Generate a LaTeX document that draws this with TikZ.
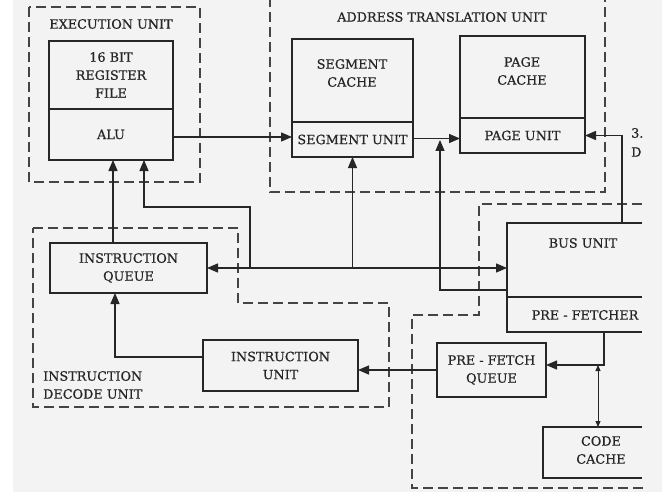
\documentclass[tikz,border=0pt]{standalone}
\usepackage{fontspec}
\setmainfont[FakeBold=0.6]{DejaVu Serif}
\usetikzlibrary{arrows.meta}
\definecolor{ink}{HTML}{262626}
\definecolor{dashink}{HTML}{444444}
\definecolor{paper}{HTML}{F3F3F3}
\tikzset{
  box/.style={draw=ink, line width=1.5pt, inner sep=0pt, outer sep=0pt, anchor=north west, align=center, text=ink},
  openbox/.style={inner sep=0pt, outer sep=0pt, anchor=north west},
  txt/.style={inner sep=0pt, align=center, text=ink},
  grp/.style={draw=dashink, line width=1.7pt, dash pattern=on 10pt off 5pt},
  conn/.style={draw=ink, line width=1.3pt},
  arr/.style={conn, -{Triangle[length=11pt,width=9pt]}},
  biarr/.style={conn, {Triangle[length=11pt,width=9pt]}-{Triangle[length=11pt,width=9pt]}},
  smallbi/.style={conn, line width=0.9pt, {Triangle[length=6pt,width=5pt]}-{Triangle[length=6pt,width=5pt]}},
}
\begin{document}
\begin{tikzpicture}[x=1pt,y=-1pt,font=\fontsize{12.8}{18}\selectfont]
\useasboundingbox (0,0) rectangle (672,492);
\fill[white] (0,0) rectangle (672,492);
\fill[paper] (13,0) rectangle (662,492);

% group frames
\draw[grp] (29,7) rectangle (200,182);
\node[txt] (eulbl) at (111,24) {EXECUTION UNIT};
\draw[grp] (270,-3) -- (270,192) -- (605,192) -- (605,-3);
\node[txt] (atulbl) at (442,17) {ADDRESS TRANSLATION UNIT};
\draw[grp] (33,228) -- (238,228) -- (238,303) -- (389,303) -- (389,407) -- (33,407) -- cycle;
\node[txt, anchor=west, align=left] (idulbl) at (43,385) {INSTRUCTION\\DECODE UNIT};
\draw[grp] (642,204) -- (479,204) -- (479,315) -- (412,315) -- (412,488) -- (645,488);

% execution unit
\node[box, minimum width=124pt, minimum height=68pt] (regfile) at (49,41) {16 BIT\\REGISTER\\FILE};
\node[box, minimum width=124pt, minimum height=51pt] (alu) at (49,109) {ALU};

% address translation unit
\node[box, minimum width=121pt, minimum height=83pt] (segcache) at (292,39) {};
\node[txt] (segcachet) at (352,73) {SEGMENT\\CACHE};
\node[box, minimum width=121pt, minimum height=35pt] (segunit) at (292,122) {SEGMENT UNIT};
\node[box, minimum width=125pt, minimum height=82pt] (pagecache) at (460,36) {};
\node[txt] (pagecachet) at (522,71) {PAGE\\CACHE};
\node[box, minimum width=125pt, minimum height=35pt] (pageunit) at (460,118) {PAGE UNIT};

% instruction decode unit
\node[box, minimum width=157pt, minimum height=50pt] (iq) at (50,243) {INSTRUCTION\\QUEUE};
\node[box, minimum width=155pt, minimum height=51pt] (iu) at (203,340) {INSTRUCTION\\UNIT};

% bus unit side
\node[openbox, minimum width=135pt, minimum height=74pt] (bus) at (507,223) {};
\draw[ink, line width=1.5pt] (bus.north east) -- (bus.north west) -- (bus.south west) -- (bus.south east);
\node[txt] (bust) at (583,243) {BUS UNIT};
\node[openbox, minimum width=135pt, minimum height=35pt] (pf) at (507,297) {};
\draw[ink, line width=1.5pt] (pf.north west) -- (pf.south west) -- (pf.south east);
\node[txt] (pft) at (585,315) {PRE - FETCHER};
\node[box, minimum width=109pt, minimum height=54pt] (pfq) at (437,343) {PRE - FETCH\\QUEUE};
\node[openbox, minimum width=99pt, minimum height=51pt] (cc) at (543,427) {};
\draw[ink, line width=1.5pt] (cc.north east) -- (cc.north west) -- (cc.south west) -- (cc.south east);
\node[txt] (cct) at (601,450) {CODE\\CACHE};

% cut-off text at right
\node[txt, anchor=west] (cut1) at (631,133) {3.};
\node[txt, anchor=west] (cut2) at (631,152) {D};

% coordinates
\coordinate (xA) at (113,0);
\coordinate (j1) at (250,268);
\coordinate (k2) at (144,207);
\coordinate (p1) at (440,290);
\coordinate (p2) at (440,140);
\coordinate (q1) at (622,0);
\coordinate (r1) at (115,357);
\coordinate (s1) at (604,365);
\coordinate (t1) at (598,365);
\coordinate (y137) at (0,137);

% connectors
\draw[arr] (alu.east |- y137) -- (segunit.west |- y137);
\draw[arr] ([yshift=1pt]segunit.east) -- ([yshift=1pt]segunit.east -| pageunit.west);
\draw[biarr] (iq.east) -- (iq.east -| bus.west);
\draw[arr] (iq.north -| xA) -- (alu.south -| xA);
\draw[arr] (j1) |- (k2) -- (k2 |- alu.south);
\draw[arr] (iq.east -| segunit.south) -- (segunit.south);
\draw[arr] (p1 -| bus.west) -- (p1) -- (p2);
\draw[arr] (bus.north -| q1) |- (pageunit.east);
\draw[arr] (pfq.west) -- (pfq.west -| iu.east);
\draw[arr] (r1 -| iu.west) -- (r1) -- (r1 |- iq.south);
\draw[arr] (s1 |- pf.south) -- (s1) -- (s1 -| pfq.east);
\draw[smallbi] (t1) -- (t1 |- cc.north);
\end{tikzpicture}
\end{document}
